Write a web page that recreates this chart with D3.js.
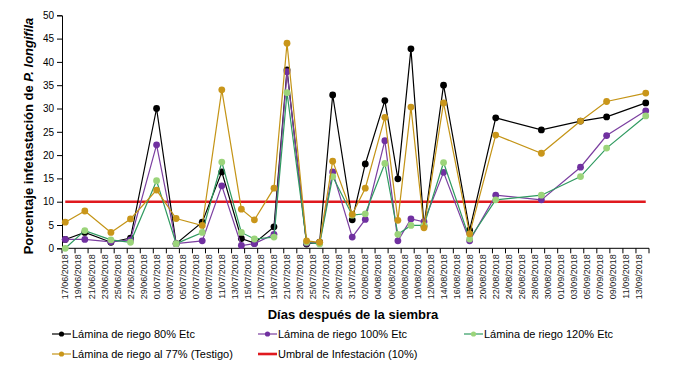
<!DOCTYPE html>
<html>
<head>
<meta charset="utf-8">
<script src="https://cdn.jsdelivr.net/npm/d3@7"></script>
<style>
  body { margin: 0; background: #fff; }
  text { font-family: "Liberation Sans", Arial, sans-serif; }
</style>
</head>
<body>
<div id="chart"></div>
<script>
// sampling dates (dd/mm/yyyy)
const dates = ["17/06/2018","20/06/2018","24/06/2018","27/06/2018","01/07/2018","04/07/2018","08/07/2018",
  "11/07/2018","14/07/2018","16/07/2018","19/07/2018","21/07/2018","24/07/2018","26/07/2018","28/07/2018",
  "31/07/2018","02/08/2018","05/08/2018","07/08/2018","09/08/2018","11/08/2018","14/08/2018","18/08/2018",
  "22/08/2018","29/08/2018","04/09/2018","08/09/2018","14/09/2018"];

// infestation % per treatment
const lamina80  = [1.9, 3.4, 1.3, 2.2, 30.0, 1.0, 5.6, 16.4, 2.1, 1.1, 4.6, 38.3, 0.9, 1.3, 32.9, 6.1,
  18.1, 31.7, 14.9, 42.8, 4.8, 35.0, 3.9, 28.0, 25.4, 27.3, 28.2, 31.2];
const lamina100 = [1.9, 1.9, 1.4, 1.8, 22.2, 1.0, 1.6, 13.4, 0.6, 1.0, 3.0, 37.9, 1.1, 1.2, 16.4, 2.4,
  6.2, 23.1, 1.6, 6.3, 5.7, 16.3, 1.6, 11.4, 10.4, 17.4, 24.2, 29.5];
const lamina120 = [0.0, 3.8, 1.8, 1.3, 14.5, 1.0, 3.4, 18.5, 3.4, 2.0, 2.4, 33.4, 1.3, 0.9, 15.4, 7.1,
  7.4, 18.2, 3.0, 4.9, 4.9, 18.4, 2.0, 10.4, 11.4, 15.4, 21.5, 28.4];
const testigo   = [5.6, 8.0, 3.4, 6.3, 12.5, 6.4, 4.9, 34.0, 8.4, 6.1, 12.9, 44.0, 1.6, 1.3, 18.7, 7.3,
  12.9, 28.1, 6.0, 30.3, 4.4, 31.2, 3.1, 24.3, 20.4, 27.3, 31.5, 33.3];
const umbral = 10;

const yTicks = [0, 5, 10, 15, 20, 25, 30, 35, 40, 45, 50];

const parse = d3.timeParse("%d/%m/%Y");
const fmt = d3.timeFormat("%d/%m/%Y");
const day = 864e5;

const W = 685, H = 372;
const svg = d3.select("#chart").append("svg").attr("width", W).attr("height", H);

// scales
const x = d3.scaleTime()
  .domain([new Date(+parse("17/06/2018") - day / 2), new Date(+parse("14/09/2018") + day / 2)])
  .range([62, 649]);
const y = d3.scaleLinear().domain([0, 50]).range([248.3, 15.3]);

// y axis
const yAxis = svg.append("g").attr("transform", "translate(62,0)")
  .call(d3.axisLeft(y).tickValues(yTicks).tickSize(5).tickPadding(3));
yAxis.selectAll("text").style("font-size", "10px").attr("fill", "#000");
yAxis.selectAll("line, path").attr("stroke", "#000");

// x axis: ticks sit between days, labels every 2 days
const tickDates = d3.range(0, 46).map(i => new Date(+parse("17/06/2018") - day / 2 + i * 2 * day));
const labelDates = d3.range(0, 45).map(i => new Date(+parse("17/06/2018") + i * 2 * day));
const xg = svg.append("g");
xg.append("line").attr("x1", x.range()[0]).attr("x2", x.range()[1])
  .attr("y1", y(0)).attr("y2", y(0)).attr("stroke", "#000");
xg.selectAll(".tk").data(tickDates).enter().append("line")
  .attr("x1", d => x(d)).attr("x2", d => x(d))
  .attr("y1", y(0)).attr("y2", y(0) + 5).attr("stroke", "#000");
xg.selectAll(".lb").data(labelDates).enter().append("text")
  .attr("transform", d => "translate(" + x(d) + "," + (y(0) + 6) + ") rotate(-90)")
  .attr("text-anchor", "end").attr("dy", "0.35em")
  .style("font-size", "9px").attr("fill", "#222")
  .text(d => fmt(d));

// threshold
const pts = dates.map(parse);
svg.append("path")
  .datum(pts)
  .attr("fill", "none").attr("stroke", "#e0191e").attr("stroke-width", 2.6)
  .attr("d", d3.line().x(d => x(d)).y(() => y(umbral)));

// series
const series = [
  {name: "Lámina de riego 80% Etc", values: lamina80, line: "#000000", dot: "#000000"},
  {name: "Lámina de riego 100% Etc", values: lamina100, line: "#7b3fa0", dot: "#7030a0"},
  {name: "Lámina de riego 120% Etc", values: lamina120, line: "#2f9a60", dot: "#9bd47a"},
  {name: "Lámina de riego al 77% (Testigo)", values: testigo, line: "#c49416", dot: "#c9961a"}
];
const line = d3.line().x((d, i) => x(pts[i])).y(d => y(d));

// series order as in the original: testigo ends on top
series.forEach(s => {
  const g = svg.append("g");
  g.append("path").datum(s.values)
    .attr("fill", "none").attr("stroke", s.line).attr("stroke-width", 1.2)
    .attr("d", line);
  g.selectAll("circle").data(s.values).enter().append("circle")
    .attr("cx", (d, i) => x(pts[i])).attr("cy", d => y(d))
    .attr("r", 3.4).attr("fill", s.dot);
});

// axis titles
svg.append("text")
  .attr("transform", "translate(33,136) rotate(-90)")
  .attr("text-anchor", "middle")
  .style("font-size", "13px").style("font-weight", "bold")
  .text("Porcentaje infetastación de ")
  .append("tspan").style("font-style", "italic").text("P. longifila");

svg.append("text")
  .attr("x", 353).attr("y", 319)
  .attr("text-anchor", "middle")
  .style("font-size", "13px").style("font-weight", "bold")
  .text("Días después de la siembra");

// legend
const legendItems = [
  {s: series[0], x: 52, y: 334},
  {s: series[1], x: 258, y: 334},
  {s: series[2], x: 464, y: 334},
  {s: series[3], x: 52, y: 354},
  {s: {name: "Umbral de Infestación (10%)", line: "#e0191e"}, x: 258, y: 354, plain: true}
];
const legend = svg.append("g");
legendItems.forEach(it => {
  const g = legend.append("g").attr("transform", "translate(" + it.x + "," + it.y + ")");
  g.append("line").attr("x1", 0).attr("x2", 19).attr("y1", 0).attr("y2", 0)
    .attr("stroke", it.s.line).attr("stroke-width", it.plain ? 2.6 : 1.2);
  if (!it.plain) g.append("circle").attr("cx", 9.5).attr("cy", 0).attr("r", 2.6).attr("fill", it.s.dot);
  g.append("text").attr("x", 20).attr("dy", "0.35em")
    .style("font-size", "11px").attr("fill", "#000")
    .text(it.s.name);
});
</script>
</body>
</html>
